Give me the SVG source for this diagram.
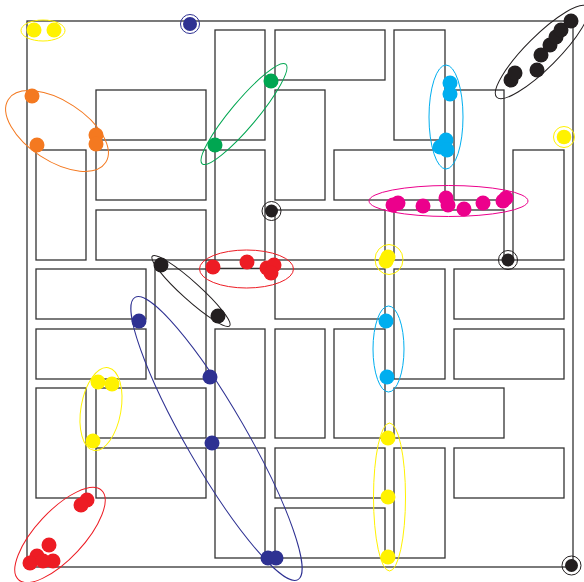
<svg xmlns="http://www.w3.org/2000/svg" width="584" height="582" viewBox="0 0 584 582">
<style>
.blk{fill:none;stroke:#333;stroke-width:1.3}
.hull{fill:none;stroke-width:1}
.y{fill:#FFF200}.ys{stroke:#FFF200}
.o{fill:#F47920}.os{stroke:#F47920}
.n{fill:#2E3192}.ns{stroke:#2E3192}
.g{fill:#00A651}.gs{stroke:#00A651}
.k{fill:#231F20}.ks{stroke:#231F20}
.c{fill:#00AEEF}.cs{stroke:#00AEEF}
.m{fill:#EC008C}.ms{stroke:#EC008C}
.r{fill:#ED1C24}.rs{stroke:#ED1C24}
</style>
<rect width="584" height="582" fill="#fff"/>
<g id="map" class="blk">
<rect x="27" y="21" width="546" height="546"/>
<rect x="215" y="30" width="50" height="110"/>
<rect x="275" y="30" width="110" height="50"/>
<rect x="394" y="30" width="51" height="110"/>
<rect x="96" y="90" width="110" height="50"/>
<rect x="275" y="90" width="50" height="110"/>
<rect x="454" y="90" width="50" height="110"/>
<rect x="36" y="150" width="50" height="110"/>
<rect x="96" y="150" width="110" height="50"/>
<rect x="215" y="150" width="50" height="110"/>
<rect x="334" y="150" width="111" height="50"/>
<rect x="513" y="150" width="51" height="110"/>
<rect x="96" y="210" width="110" height="50"/>
<rect x="275" y="210" width="110" height="50"/>
<rect x="394" y="210" width="110" height="50"/>
<rect x="36" y="269" width="110" height="50"/>
<rect x="155" y="269" width="51" height="110"/>
<rect x="275" y="269" width="110" height="50"/>
<rect x="394" y="269" width="51" height="110"/>
<rect x="454" y="269" width="110" height="50"/>
<rect x="36" y="329" width="110" height="50"/>
<rect x="215" y="329" width="50" height="109"/>
<rect x="275" y="329" width="50" height="109"/>
<rect x="334" y="329" width="51" height="109"/>
<rect x="454" y="329" width="110" height="50"/>
<rect x="36" y="388" width="50" height="110"/>
<rect x="96" y="388" width="110" height="50"/>
<rect x="394" y="388" width="110" height="50"/>
<rect x="96" y="448" width="110" height="50"/>
<rect x="215" y="448" width="50" height="110"/>
<rect x="275" y="448" width="110" height="50"/>
<rect x="394" y="448" width="51" height="110"/>
<rect x="454" y="448" width="110" height="50"/>
<rect x="275" y="508" width="110" height="50"/>
<path d="M206 268.5H275M206 260V269M206 260H215"/>
</g>
<g id="connectors"/>
<g id="yellow-nw">
<ellipse class="hull ys" cx="43" cy="30.5" rx="22" ry="10.5"/>
<circle class="y" cx="34" cy="30" r="7.5"/><circle class="y" cx="54" cy="30" r="7.5"/>
</g>
<g id="navy-n">
<circle class="hull ns" cx="190" cy="24" r="9.5"/>
<circle class="n" cx="190" cy="24" r="7"/>
</g>
<g id="orange">
<ellipse class="hull os" cx="57" cy="131" rx="58" ry="30" transform="rotate(33 57 131)"/>
<circle class="o" cx="32" cy="96" r="7.5"/><circle class="o" cx="37" cy="145" r="7.5"/>
<circle class="o" cx="96" cy="135" r="7.5"/><circle class="o" cx="96" cy="144" r="7.5"/>
</g>
<g id="green">
<ellipse class="hull gs" cx="244" cy="114" rx="65" ry="13" transform="rotate(-50 244 114)"/>
<circle class="g" cx="271" cy="81" r="7.5"/><circle class="g" cx="215" cy="145" r="7.5"/>
</g>
<g id="black-ne">
<ellipse class="hull ks" cx="542" cy="52" rx="64" ry="16" transform="rotate(-45 542 52)"/>
<circle class="k" cx="511" cy="80" r="7.5"/><circle class="k" cx="515" cy="73" r="7.5"/>
<circle class="k" cx="537" cy="70" r="7.5"/><circle class="k" cx="541" cy="55" r="7.5"/>
<circle class="k" cx="550" cy="45" r="7.5"/><circle class="k" cx="556" cy="37" r="7.5"/>
<circle class="k" cx="561" cy="30" r="7.5"/><circle class="k" cx="571" cy="21" r="7.5"/>
</g>
<g id="yellow-e">
<circle class="hull ys" cx="564" cy="137" r="10.5"/>
<circle class="y" cx="564" cy="137" r="7.3"/>
</g>
<g id="cyan-n">
<ellipse class="hull cs" cx="446" cy="117" rx="17" ry="52"/>
<circle class="c" cx="450" cy="83" r="7.5"/><circle class="c" cx="450" cy="94" r="7.5"/>
<circle class="c" cx="446" cy="140" r="7.5"/><circle class="c" cx="440" cy="147" r="7.5"/>
<circle class="c" cx="447" cy="150" r="7.5"/>
</g>
<g id="magenta">
<ellipse class="hull ms" cx="448.5" cy="201" rx="79.5" ry="15.5"/>
<circle class="m" cx="393" cy="205" r="7.5"/><circle class="m" cx="398" cy="203" r="7.5"/>
<circle class="m" cx="423" cy="206" r="7.5"/><circle class="m" cx="446" cy="198" r="7.5"/>
<circle class="m" cx="448" cy="205" r="7.5"/><circle class="m" cx="464" cy="209" r="7.5"/>
<circle class="m" cx="483" cy="203" r="7.5"/><circle class="m" cx="503" cy="201" r="7.5"/>
<circle class="m" cx="506" cy="198" r="7.5"/>
</g>
<g id="black-c">
<circle class="hull ks" cx="271.5" cy="211" r="9.5"/>
<circle class="k" cx="271.5" cy="211" r="6.5"/>
</g>
<g id="black-e">
<circle class="hull ks" cx="508" cy="260" r="9.5"/>
<circle class="k" cx="508" cy="260" r="6.5"/>
</g>
<g id="black-se">
<circle class="hull ks" cx="571.5" cy="565.5" r="9.5"/>
<circle class="k" cx="571.5" cy="565.5" r="6.5"/>
</g>
<g id="red-c">
<ellipse class="hull rs" cx="246.5" cy="269" rx="47" ry="19"/>
<circle class="r" cx="213" cy="267" r="7.5"/><circle class="r" cx="247" cy="262" r="7.5"/>
<circle class="r" cx="267" cy="268" r="7.5"/><circle class="r" cx="274" cy="265" r="7.5"/>
<circle class="r" cx="271" cy="273" r="7.5"/>
</g>
<g id="black-w">
<ellipse class="hull ks" cx="191" cy="291" rx="52" ry="9" transform="rotate(42 191 291)"/>
<circle class="k" cx="161" cy="265" r="7.5"/><circle class="k" cx="218" cy="316" r="7.5"/>
</g>
<g id="navy-s">
<ellipse class="hull ns" cx="216.5" cy="438.5" rx="163" ry="30" transform="rotate(60 216.5 438.5)"/>
<circle class="n" cx="139" cy="321" r="7.5"/><circle class="n" cx="210" cy="377" r="7.5"/>
<circle class="n" cx="212" cy="443" r="7.5"/><circle class="n" cx="268" cy="558" r="7.5"/>
<circle class="n" cx="276" cy="558" r="7.5"/>
</g>
<g id="yellow-w">
<ellipse class="hull ys" cx="101" cy="409" rx="20" ry="42" transform="rotate(10 101 409)"/>
<circle class="y" cx="98" cy="382" r="7.5"/><circle class="y" cx="112" cy="384" r="7.5"/>
<circle class="y" cx="93" cy="441" r="7.5"/>
</g>
<g id="red-sw">
<ellipse class="hull rs" cx="60" cy="535" rx="61" ry="24" transform="rotate(-47 60 535)"/>
<circle class="r" cx="87" cy="500" r="7.5"/><circle class="r" cx="81" cy="505" r="7.5"/>
<circle class="r" cx="49" cy="545" r="7.5"/><circle class="r" cx="37" cy="556" r="7.5"/>
<circle class="r" cx="30" cy="563" r="7.5"/><circle class="r" cx="53" cy="561" r="7.5"/>
<circle class="r" cx="43" cy="561" r="7.5"/>
</g>
<g id="cyan-s">
<ellipse class="hull cs" cx="388.5" cy="349" rx="15.5" ry="43"/>
<circle class="c" cx="386" cy="321" r="7.5"/><circle class="c" cx="387" cy="377" r="7.5"/>
</g>
<g id="yellow-c">
<ellipse class="hull ys" cx="389" cy="259.5" rx="14" ry="15"/>
<circle class="y" cx="386" cy="261" r="7.5"/><circle class="y" cx="388" cy="257" r="7.5"/>
</g>
<g id="yellow-s">
<ellipse class="hull ys" cx="389.5" cy="497" rx="16" ry="74"/>
<circle class="y" cx="388" cy="438" r="7.5"/><circle class="y" cx="388" cy="497" r="7.5"/>
<circle class="y" cx="388" cy="557" r="7.5"/>
</g>
</svg>
